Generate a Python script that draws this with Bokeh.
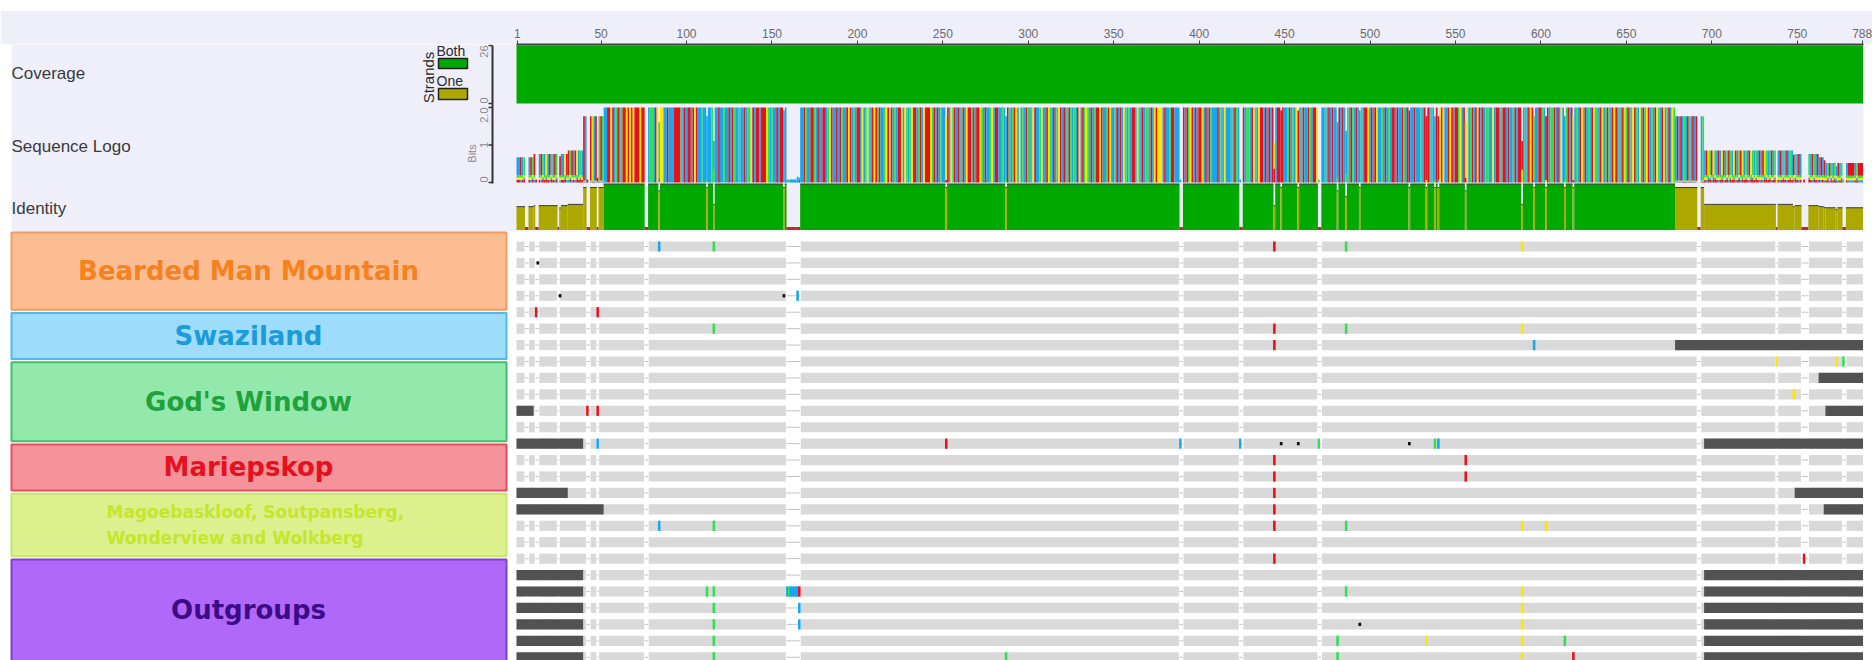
import math
from bokeh.plotting import figure
from bokeh.layouts import column
from bokeh.models import Range1d, FixedTicker, Spacer
from bokeh.embed import file_html
from bokeh.resources import INLINE
from bokeh.core.properties import value

# ------------------------------------------------------------------ data
# consensus of the alignment, 10 columns per block ("-" = insertion column)
CONSENSUS_BLOCKS = [
    "CCACT--CAT",  # 1
    "A--CATCGCA",  # 11
    "TCAT-ACCGA",  # 21
    "ATACAGCTCA",  # 31
    "C--AGCA-TA",  # 41
    "TCCAAGACTA",  # 51
    "CTAAGAGAGA",  # 61
    "AAGAA--CTT",  # 71
    "CAGTGGCCAC",  # 81
    "CCAAAATCAC",  # 91
    "AACAGACCTC",  # 101
    "CCCCTCCCAC",  # 111
    "CTCCACATCC",  # 121
    "TCCACTTGAC",  # 131
    "AACAAAGTCT",  # 141
    "CCACAACC--",  # 151
    "------CCAT",  # 161
    "CCAATCACCA",  # 171
    "ACTGACCACA",  # 181
    "TCCAGACTCA",  # 191
    "ACGCTGTCAG",  # 201
    "ATACCTGAGA",  # 211
    "CTCAAGCGTC",  # 221
    "TGAACTACGA",  # 231
    "AAGTACACTC",  # 241
    "CGACGTACAC",  # 251
    "TACGAATACA",  # 261
    "AGTCACCTGC",  # 271
    "AACCTCCATC",  # 281
    "TAGCGCTCAT",  # 291
    "CTGACCTGCC",  # 301
    "AGTCACTGAC",  # 311
    "ACTATCTCAG",  # 321
    "CATGTCACTA",  # 331
    "AGACCTAGCC",  # 341
    "TACACGTCTC",  # 351
    "AACGTCACTT",  # 361
    "CACGAGGGCA",  # 371
    "CCTAACCC--",  # 381
    "ACATGACACA",  # 391
    "AGCACATCCC",  # 401
    "ACTCGCCCTC",  # 411
    "ATC--ACTTC",  # 421
    "AGTCGAACAC",  # 431
    "ACAGCAAAAC",  # 441
    "CTACTCGACT",  # 451
    "ACCATCAAG-",  # 461
    "-CCTCACACC",  # 471
    "CACACCTCAT",  # 481
    "CACCTCAAGC",  # 491
    "ACAGCCTCAC",  # 501
    "TCAACACCAT",  # 511
    "CAACCACCCT",  # 521
    "CAAACTCCAA",  # 531
    "GAGCCAGACA",  # 541
    "ATGCAGGCTA",  # 551
    "CAGACACTTC",  # 561
    "CGCAACTAAC",  # 571
    "ACCTACAAAC",  # 581
    "TCAGATCCAA",  # 591
    "TCAACTTACA",  # 601
    "CGCCTACAGC",  # 611
    "TCAGTACTCA",  # 621
    "GTTCAGCTAT",  # 631
    "CAGACTCAGT",  # 641
    "ACTGATCGCA",  # 651
    "TGACTCAGTC",  # 661
    "AGCTACGTCA",  # 671
    "CACTCATCAC",  # 681
    "A--CTCAGTA",  # 691
    "GTCACGACTA",  # 701
    "TCGACTAGCT",  # 711
    "CAGTCTCACA",  # 721
    "GTCTACT-CA",  # 731
    "CTCACTCATC",  # 741
    "AC----TCAT",  # 751
    "CACACACTAT",  # 761
    "CTCACT--CA",  # 771
    "AAACTAAA",    # 781
]

RULER_TICKS = [1, 50, 100, 150, 200, 250, 300, 350, 400, 450, 500,
               550, 600, 650, 700, 750, 788]
TRACK_LABELS = ["Coverage", "Sequence Logo", "Identity"]

GROUP_LABELS = [["Bearded Man Mountain"], ["Swaziland"], ["God's Window"],
                ["Mariepskop"],
                ["Magoebaskloof, Soutpansberg,", "Wonderview and Wolkberg"],
                ["Outgroups"]]
GROUP_SIZES = [4, 3, 5, 3, 4, 7]

# per sequence row: bases that differ from the consensus (or fill an insertion column)
ROW_SUBS = [
    [(84, "C"), (116, "T"), (444, "A"), (486, "T"), (589, "G")],
    [],
    [],
    [(165, "C")],
    [(12, "A"), (48, "A")],
    [(116, "T"), (444, "A"), (486, "T"), (589, "G")],
    [(444, "A"), (596, "C")],
    [(738, "G"), (773, "G"), (777, "T")],
    [],
    [(748, "G")],
    [(42, "A"), (48, "A")],
    [],
    [(48, "C"), (252, "A"), (389, "C"), (424, "C"), (470, "T"), (538, "T"), (540, "C")],
    [(444, "A"), (556, "A")],
    [(444, "A"), (556, "A")],
    [(444, "A")],
    [(444, "A")],
    [(84, "C"), (116, "T"), (444, "A"), (486, "T"), (589, "G"), (603, "G")],
    [],
    [(444, "A"), (754, "A")],
    [],
    [(112, "T"), (116, "T"), (159, "C"), (160, "T"), (161, "C"), (162, "C"), (163, "C"),
     (164, "C"), (165, "C"), (166, "A"), (486, "T"), (589, "G")],
    [(116, "T"), (166, "C"), (589, "G")],
    [(116, "T"), (166, "C"), (589, "G")],
    [(116, "T"), (481, "T"), (533, "G"), (589, "G"), (614, "T")],
    [(116, "T"), (287, "T"), (481, "T"), (589, "G"), (619, "A")],
]
# single-base deletions (row -> positions)
ROW_DELS = {1: [13], 3: [26, 157], 12: [448, 458, 523], 23: [494]}
# missing data (row -> [(first, last)])
ROW_MISSING = {
    6: [(679, 788)],
    8: [(763, 788)],
    10: [(1, 10), (767, 788)],
    12: [(1, 39), (696, 788)],
    15: [(1, 30), (749, 788)],
    16: [(1, 51), (766, 788)],
    20: [(1, 39), (696, 788)],
    21: [(1, 39), (696, 788)],
    22: [(1, 39), (696, 788)],
    23: [(1, 39), (696, 788)],
    24: [(1, 39), (696, 788)],
    25: [(1, 39), (696, 788)],
}
COVERAGE_TICKS = [0, 26]
BITS_TICKS = [0, 1, 2]
BITS_TICK_LABELS = ["0", "1", "2.0"]

# ------------------------------------------------------------------ styles / layout
BASE_COLORS = {"A": "#e8101a", "C": "#18a6ee", "G": "#ffe600", "T": "#2ee052"}
LAVENDER = "#efeffa"
GREEN = "#00a900"
OLIVE = "#aca800"
GROUP_FILL = ["#fdbd92", "#9ddcfb", "#93e9ac", "#f4939a", "#dcf08e", "#b068f8"]
GROUP_LINE = ["#f59a5c", "#4dbaf0", "#42bf6a", "#ef4a5a", "#c5e66a", "#7d3fd0"]
GROUP_TEXT = ["#f58220", "#1b9bd8", "#1fa23c", "#e5111f", "#c5e62a", "#3d0b8a"]

TOP_GAP = 10
FIG_W, FIG_H = 1872, 660 - TOP_GAP
FRAME_TOP, FRAME_BOTTOM = 44.0, 660.0
PAGE_LEFT, PAGE_RIGHT = 0.0, 1872.0
COL0_PX, PX_PER_COL = 516.0, 1.7088
ROW0_PX, ROW_PX = 246.0, 16.43
COV_BAND = (45.0, 103.0)
LOGO_BAND = (107.0, 182.0)
IDENT_BAND = (183.5, 229.5)


def px2x(px):
    return 0.5 + (px - COL0_PX) / PX_PER_COL


def py2y(py):
    return (py - ROW0_PX) / ROW_PX


def band_range(top_px, bottom_px, vmin, vmax):
    s = (bottom_px - top_px) / (vmax - vmin)
    return Range1d(start=vmin - (FRAME_BOTTOM - bottom_px) / s,
                   end=vmax + (top_px - FRAME_TOP) / s)


def runs(keys):
    out, start = [], 0
    for i in range(1, len(keys) + 1):
        if i == len(keys) or keys[i] != keys[start]:
            out.append((start, i - 1, keys[start]))
            start = i
    return out


# ------------------------------------------------------------------ derived tracks
CONSENSUS = "".join(CONSENSUS_BLOCKS)
N_COLS = len(CONSENSUS)
N_ROWS = len(ROW_SUBS)


def row_state(r, c):
    cons = CONSENSUS[c - 1]
    subs = dict(ROW_SUBS[r])
    if cons == "-":
        return subs.get(c, "-")
    for s, e in ROW_MISSING.get(r, []):
        if s <= c <= e:
            return "N"
    if c in ROW_DELS.get(r, []):
        return "-"
    return subs.get(c, cons)


states = [[row_state(r, c) for c in range(1, N_COLS + 1)] for r in range(N_ROWS)]
pairs = N_ROWS * (N_ROWS - 1) / 2.0

identity, logo_keys, coverage = [], [], []
for ci in range(N_COLS):
    col = [states[r][ci] for r in range(N_ROWS)]
    coverage.append(len(col))
    cnt = {}
    for s in col:
        if s != "-":
            cnt[s] = cnt.get(s, 0) + 1
    identity.append(100.0 * sum(n * (n - 1) / 2.0 for n in cnt.values()) / pairs)
    freq = {b: 0.0 for b in "ACGT"}
    n = 0
    for s in col:
        if s == "-":
            continue
        n += 1
        if s == "N":
            for b in "ACGT":
                freq[b] += 0.25
        else:
            freq[s] += 1
    if n == 0:
        logo_keys.append(())
        continue
    f = {b: freq[b] / n for b in "ACGT"}
    H = -sum(v * math.log2(v) for v in f.values() if v > 0)
    bits = (2.0 - H) * n / N_ROWS
    stack = sorted((round(f[b] * bits, 5), b) for b in "ACGT" if f[b] > 0)
    logo_keys.append(tuple(stack))

# ------------------------------------------------------------------ figure
p = figure(width=FIG_W, height=FIG_H, output_backend="svg", toolbar_location=None,
           x_range=Range1d(px2x(PAGE_LEFT), px2x(PAGE_RIGHT)),
           y_range=Range1d(py2y(FRAME_BOTTOM), py2y(FRAME_TOP)),
           x_axis_location="above", y_axis_location=None,
           min_border_top=int(FRAME_TOP - TOP_GAP), min_border_left=0,
           min_border_right=0, min_border_bottom=0,
           background_fill_color="white", border_fill_color=LAVENDER,
           outline_line_color=None)
p.xgrid.grid_line_color = None
p.ygrid.grid_line_color = None
p.extra_y_ranges = {
    "cov": band_range(COV_BAND[0], COV_BAND[1], 0, 26),
    "bits": band_range(LOGO_BAND[0], LOGO_BAND[1], 0, 2),
    "ident": band_range(IDENT_BAND[0], IDENT_BAND[1], 0, 100),
}

ax = p.xaxis[0]
ax.ticker = FixedTicker(ticks=RULER_TICKS)
ax.bounds = (0.5, N_COLS + 0.5)
ax.axis_line_width = 2
ax.axis_line_color = "#444444"
ax.major_tick_out = 4
ax.major_tick_in = 0
ax.major_tick_line_color = "#444444"
ax.minor_tick_out = 0
ax.minor_tick_in = 0
ax.major_label_text_font = "Liberation Sans"
ax.major_label_text_font_size = "12px"
ax.major_label_text_color = "#6a6a6a"
ax.major_label_standoff = 3

# lavender background of the track area (white page strip on the left)
p.quad(left=[px2x(11)], right=[px2x(1863)], top=[py2y(FRAME_TOP)],
       bottom=[py2y(231)], fill_color=LAVENDER, line_color=None)
p.quad(left=[px2x(PAGE_LEFT)], right=[px2x(11)], top=[py2y(FRAME_TOP)],
       bottom=[py2y(FRAME_BOTTOM)], fill_color="white", line_color=None)

# track labels
p.text(x=[px2x(11)] * 3, y=[py2y(73), py2y(146), py2y(208)], text=TRACK_LABELS,
       text_font=value("Liberation Sans"), text_font_size="17px", text_color="#3a3a3a",
       text_align="left", text_baseline="middle")

# coverage
for i, j, k in runs(coverage):
    p.quad(left=[i + 0.5], right=[j + 1.5], bottom=[0], top=[k], y_range_name="cov",
           fill_color=GREEN, line_color=None)

# sequence logo
for i, j, key in runs(logo_keys):
    bottom = 0.0
    for h, b in key:
        p.quad(left=[i + 0.5], right=[j + 1.5], bottom=[bottom], top=[bottom + h],
               y_range_name="bits", fill_color=BASE_COLORS[b], line_color=None)
        bottom += h

# identity
id_keys = [round(v, 3) for v in identity]
for i, j, v in runs(id_keys):
    if v >= 99.999:
        col = GREEN
    elif v >= 30:
        col = OLIVE
    else:
        col = "#e02020"
    top = v if v >= 30 else max(v, 5.0)
    p.quad(left=[i + 0.5], right=[j + 1.5], bottom=[0], top=[top], y_range_name="ident",
           fill_color=col, line_color=None)
    p.segment(x0=[i + 0.5], x1=[j + 1.5], y0=[top], y1=[top], y_range_name="ident",
              line_color="#3a3a3a", line_width=1)

# vertical axis for coverage and logo (drawn at the right of the label panel)
ax_x = px2x(492)
p.segment(x0=[ax_x], x1=[ax_x], y0=[py2y(COV_BAND[0])], y1=[py2y(LOGO_BAND[1] + 1)],
          line_color="#333333", line_width=2)
p.segment(x0=[px2x(488)] * 2, x1=[ax_x] * 2, y0=COVERAGE_TICKS, y1=COVERAGE_TICKS,
          y_range_name="cov", line_color="#333333", line_width=1.5)
p.segment(x0=[px2x(488)] * 3, x1=[ax_x] * 3, y0=BITS_TICKS, y1=BITS_TICKS,
          y_range_name="bits", line_color="#333333", line_width=1.5)
p.text(x=[px2x(487)] * 2, y=COVERAGE_TICKS, text=[str(t) for t in COVERAGE_TICKS],
       y_range_name="cov", angle=math.pi / 2, text_align=["left", "right"],
       text_baseline="bottom", text_font=value("Liberation Sans"),
       text_font_size="11px", text_color="#8a8a8a")
p.text(x=[px2x(487)] * 3, y=BITS_TICKS, text=BITS_TICK_LABELS, y_range_name="bits",
       angle=math.pi / 2, text_align=["left", "center", "right"], text_baseline="bottom",
       text_font=value("Liberation Sans"), text_font_size="11px", text_color="#8a8a8a")
p.text(x=[px2x(471)], y=[py2y(153)], text=["Bits"], angle=math.pi / 2,
       text_align="center", text_baseline="middle", text_font=value("Liberation Sans"),
       text_font_size="11px", text_color="#8a8a8a")

# strands legend
p.text(x=[px2x(428)], y=[py2y(77)], text=["Strands"], angle=math.pi / 2,
       text_align="center", text_baseline="middle", text_font=value("Liberation Sans"),
       text_font_size="15px", text_color="#2a2a2a")
p.text(x=[px2x(436)] * 2, y=[py2y(50), py2y(80)], text=["Both", "One"],
       text_align="left", text_baseline="middle", text_font=value("Liberation Sans"),
       text_font_size="14px", text_color="#2a2a2a")
p.quad(left=[px2x(438)] * 2, right=[px2x(467)] * 2, top=[py2y(58), py2y(88)],
       bottom=[py2y(68), py2y(99)], fill_color=[GREEN, OLIVE], line_color="#222222",
       line_width=1.5)

# ---------------------------------------------------------------- alignment rows
BAR_H = 0.31
gap_runs, seq_runs = [], []
for i, j, is_gap in runs([ch == "-" for ch in CONSENSUS]):
    (gap_runs if is_gap else seq_runs).append((i + 1, j + 1))

bl, br, bt, bb = [], [], [], []
gx0, gx1, gy = [], [], []
for r in range(N_ROWS):
    for s, e in seq_runs:
        bl.append(s - 0.5 + (0.35 if s > 1 else 0))
        br.append(e + 0.5 - (0.35 if e < N_COLS else 0))
        bt.append(r - BAR_H)
        bb.append(r + BAR_H)
    for s, e in gap_runs:
        gx0.append(s - 0.5)
        gx1.append(e + 0.5)
        gy.append(r)
p.quad(left=bl, right=br, top=bt, bottom=bb, fill_color="#d9d9d9", line_color=None)
p.segment(x0=gx0, x1=gx1, y0=gy, y1=gy, line_color="#c4c4c4", line_width=1)

ml, mr, mt, mb = [], [], [], []
for r, spans in ROW_MISSING.items():
    for s, e in spans:
        ml.append(s - 0.5)
        mr.append(e + 0.5)
        mt.append(r - BAR_H)
        mb.append(r + BAR_H)
p.quad(left=ml, right=mr, top=mt, bottom=mb, fill_color="#525252", line_color=None)

sl, sr, st, sb, sc = [], [], [], [], []
for r, subs in enumerate(ROW_SUBS):
    for pos, base in subs:
        sl.append(pos - 0.75)
        sr.append(pos + 0.75)
        st.append(r - BAR_H)
        sb.append(r + BAR_H)
        sc.append(BASE_COLORS[base])
p.quad(left=sl, right=sr, top=st, bottom=sb, fill_color=sc, line_color=None)

dl, dr, dt, db = [], [], [], []
for r, poss in ROW_DELS.items():
    for pos in poss:
        dl.append(pos - 0.8)
        dr.append(pos + 0.8)
        dt.append(r - 0.1)
        db.append(r + 0.1)
p.quad(left=dl, right=dr, top=dt, bottom=db, fill_color="#111111", line_color=None)

# ---------------------------------------------------------------- group boxes
first = 0
y_visible_bottom = py2y(FRAME_BOTTOM)
for gi, size in enumerate(GROUP_SIZES):
    last = first + size - 1
    top = py2y(232) if gi == 0 else first + 0.05
    bottom = last + 0.85
    p.quad(left=[px2x(11)], right=[px2x(506)], top=[top], bottom=[bottom],
           fill_color=GROUP_FILL[gi], line_color=GROUP_LINE[gi], line_width=2)
    mid = (top + min(bottom, y_visible_bottom)) / 2.0
    lines = GROUP_LABELS[gi]
    if len(lines) == 1:
        p.text(x=[px2x(248)], y=[mid], text=lines, text_align="center",
               text_baseline="middle", text_font=value("DejaVu Sans"),
               text_font_style="bold", text_font_size="26px", text_color=GROUP_TEXT[gi])
    else:
        p.text(x=[px2x(106)] * 2, y=[mid - 0.82, mid + 0.82], text=lines,
               text_align="left", text_baseline="middle", text_font=value("DejaVu Sans"),
               text_font_style="bold", text_font_size="17px", text_color=GROUP_TEXT[gi])
    first = last + 1

layout = column(Spacer(width=FIG_W, height=TOP_GAP), p)
open("out.html", "w").write(file_html(layout, INLINE))
